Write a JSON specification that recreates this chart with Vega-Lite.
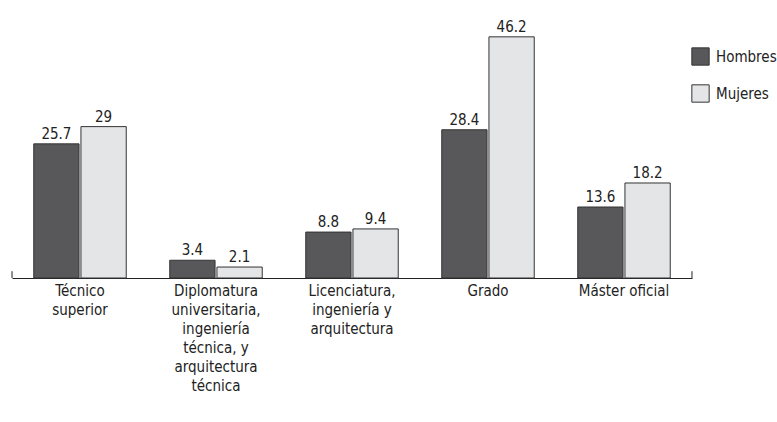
{
  "$schema": "https://vega.github.io/schema/vega-lite/v6.json",
  "width": 680,
  "height": 261,
  "autosize": {"type": "none"},
  "padding": {"left": 12, "top": 17, "right": 85, "bottom": 144},
  "background": "white",
  "config": {
    "view": {"stroke": null},
    "font": "DejaVu Sans Condensed",
    "text": {"font": "DejaVu Sans Condensed"}
  },
  "datasets": {
    "bars": [
      {"cat": "Técnico|superior", "sexo": "Hombres", "valor": 25.7},
      {"cat": "Técnico|superior", "sexo": "Mujeres", "valor": 29},
      {"cat": "Diplomatura|universitaria,|ingeniería|técnica, y|arquitectura|técnica", "sexo": "Hombres", "valor": 3.4},
      {"cat": "Diplomatura|universitaria,|ingeniería|técnica, y|arquitectura|técnica", "sexo": "Mujeres", "valor": 2.1},
      {"cat": "Licenciatura,|ingeniería y|arquitectura", "sexo": "Hombres", "valor": 8.8},
      {"cat": "Licenciatura,|ingeniería y|arquitectura", "sexo": "Mujeres", "valor": 9.4},
      {"cat": "Grado", "sexo": "Hombres", "valor": 28.4},
      {"cat": "Grado", "sexo": "Mujeres", "valor": 46.2},
      {"cat": "Máster oficial", "sexo": "Hombres", "valor": 13.6},
      {"cat": "Máster oficial", "sexo": "Mujeres", "valor": 18.2}
    ],
    "ends": [
      {"cat": "Técnico|superior", "lo": 0, "hi": 1.3},
      {"cat": "Máster oficial", "lo": 0, "hi": 1.3}
    ]
  },
  "layer": [
    {
      "data": {"name": "bars"},
      "mark": {"type": "bar", "stroke": "#333333", "strokeWidth": 1},
      "encoding": {
        "x": {
          "field": "cat", "type": "nominal",
          "scale": {
            "domain": ["Técnico|superior", "Diplomatura|universitaria,|ingeniería|técnica, y|arquitectura|técnica", "Licenciatura,|ingeniería y|arquitectura", "Grado", "Máster oficial"],
            "paddingInner": 0.32, "paddingOuter": 0.16
          },
          "axis": {
            "title": null, "labelAngle": 0, "ticks": false,
            "domainColor": "#222222", "domainWidth": 1,
            "labelExpr": "split(datum.label, '|')",
            "labelFont": "DejaVu Sans Condensed", "labelFontSize": 15,
            "labelColor": "#222222", "labelLineHeight": 19, "labelPadding": 5,
            "labelBaseline": "top"
          }
        },
        "xOffset": {"field": "sexo", "type": "nominal", "sort": ["Hombres", "Mujeres"], "scale": {"paddingInner": 0.04}},
        "y": {"field": "valor", "type": "quantitative", "scale": {"domain": [0, 50]}, "axis": null},
        "color": {
          "field": "sexo", "type": "nominal",
          "scale": {"domain": ["Hombres", "Mujeres"], "range": ["#58585a", "#e4e5e7"]},
          "legend": {
            "title": null, "orient": "none", "legendX": 679, "legendY": 30,
            "symbolType": "square", "symbolSize": 300, "symbolStrokeColor": "#333333",
            "symbolStrokeWidth": 1, "rowPadding": 14, "labelFontSize": 15,
            "labelFont": "DejaVu Sans Condensed", "labelColor": "#222222", "labelOffset": 6
          }
        }
      }
    },
    {
      "data": {"name": "bars"},
      "mark": {"type": "text", "baseline": "alphabetic", "dy": -5, "fontSize": 15, "color": "#222222"},
      "encoding": {
        "x": {"field": "cat", "type": "nominal"},
        "xOffset": {"field": "sexo", "type": "nominal", "sort": ["Hombres", "Mujeres"]},
        "y": {"field": "valor", "type": "quantitative"},
        "text": {"field": "valor", "type": "quantitative"}
      }
    },
    {
      "data": {"name": "ends"},
      "transform": [{"filter": "datum.cat == 'Técnico|superior'"}],
      "mark": {"type": "rule", "color": "#222222", "strokeWidth": 1},
      "encoding": {
        "x": {"field": "cat", "type": "nominal", "bandPosition": -0.235},
        "y": {"field": "lo", "type": "quantitative"},
        "y2": {"field": "hi"}
      }
    },
    {
      "data": {"name": "ends"},
      "transform": [{"filter": "datum.cat == 'Máster oficial'"}],
      "mark": {"type": "rule", "color": "#222222", "strokeWidth": 1},
      "encoding": {
        "x": {"field": "cat", "type": "nominal", "bandPosition": 1.235},
        "y": {"field": "lo", "type": "quantitative"},
        "y2": {"field": "hi"}
      }
    }
  ]
}
